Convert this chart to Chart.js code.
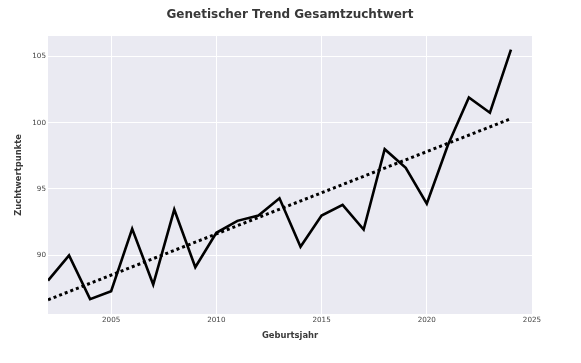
<!DOCTYPE html>
<html>
<head>
<meta charset="utf-8">
<script src="https://cdn.jsdelivr.net/npm/chart.js@4/dist/chart.umd.min.js"></script>
<style>
  html, body { margin: 0; padding: 0; background: #ffffff; }
  #wrap { width: 581px; height: 363px; position: relative; }
</style>
</head>
<body>
<div id="wrap"><canvas id="c" width="581" height="363"></canvas></div>
<script>
const years = [2002, 2003, 2004, 2005, 2006, 2007, 2008, 2009, 2010, 2011, 2012, 2013, 2014, 2015, 2016, 2017, 2018, 2019, 2020, 2021, 2022, 2023, 2024];
const zuchtwert = [88.1, 90.0, 86.7, 87.3, 92.0, 87.8, 93.45, 89.1, 91.7, 92.6, 93.0, 94.3, 90.65, 93.0, 93.8, 91.95, 98.0, 96.6, 93.9, 98.3, 101.9, 100.75, 105.5];
const trendYears = [2002, 2024];
const trendValues = [86.65, 100.3];
const xTicks = [2005, 2010, 2015, 2020, 2025];
const yTicks = [90, 95, 100, 105];

const titleText = 'Genetischer Trend Gesamtzuchtwert';
const xTitle = 'Geburtsjahr';
const yTitle = 'Zuchtwertpunkte';

const fontFam = '"DejaVu Sans", Verdana, sans-serif';

const plotBg = {
  id: 'plotBg',
  beforeDraw(chart) {
    const { ctx, chartArea: a } = chart;
    ctx.save();
    ctx.fillStyle = '#ffffff';
    ctx.fillRect(0, 0, chart.width, chart.height);
    ctx.fillStyle = '#EAEAF2';
    ctx.fillRect(a.left, a.top, a.right - a.left, a.bottom - a.top);
    ctx.restore();
  },
  afterDraw(chart) {
    const { ctx, chartArea: a } = chart;
    ctx.save();
    ctx.fillStyle = '#383838';
    ctx.font = 'bold 12px ' + fontFam;
    ctx.textAlign = 'center';
    ctx.textBaseline = 'middle';
    ctx.fillText(titleText, (a.left + a.right) / 2, 15);
    ctx.restore();
  }
};

new Chart(document.getElementById('c'), {
  type: 'line',
  data: {
    datasets: [
      {
        label: 'Gesamtzuchtwert',
        data: years.map((y, i) => ({ x: y, y: zuchtwert[i] })),
        borderColor: '#000000',
        borderWidth: 2.6,
        pointRadius: 0,
        tension: 0,
        fill: false
      },
      {
        label: 'Trend',
        data: trendYears.map((y, i) => ({ x: y, y: trendValues[i] })),
        borderColor: '#000000',
        borderWidth: 3,
        borderDash: [3, 3],
        pointRadius: 0,
        tension: 0,
        fill: false
      }
    ]
  },
  options: {
    responsive: false,
    animation: false,
    devicePixelRatio: 1,
    layout: { padding: { left: 14, right: 49, top: 36, bottom: 22 } },
    plugins: {
      legend: { display: false },
      tooltip: { enabled: false },
      title: { display: false }
    },
    scales: {
      x: {
        type: 'linear',
        min: 2002,
        max: 2025,
        afterBuildTicks(scale) { scale.ticks = xTicks.map(v => ({ value: v })); },
        afterFit(scale) { scale.height = 27; },
        grid: { color: '#ffffff', lineWidth: 1, drawTicks: false },
        border: { display: false },
        ticks: {
          padding: 2,
          color: '#444444',
          font: { family: fontFam, size: 7.2, lineHeight: 1.2 },
          maxRotation: 0,
          autoSkip: false,
          callback: v => String(v)
        },
        title: {
          display: true,
          text: xTitle,
          color: '#3a3a3a',
          font: { family: fontFam, size: 8.4, weight: 'bold', lineHeight: 1.2 },
          padding: 0
        }
      },
      y: {
        type: 'linear',
        min: 85.58,
        max: 106.53,
        afterBuildTicks(scale) { scale.ticks = yTicks.map(v => ({ value: v })); },
        afterFit(scale) { scale.width = 34; },
        grid: { color: '#ffffff', lineWidth: 1, drawTicks: false },
        border: { display: false },
        ticks: {
          padding: 2,
          color: '#444444',
          font: { family: fontFam, size: 7.2, lineHeight: 1.2 },
          autoSkip: false,
          callback: v => String(v)
        },
        title: {
          display: true,
          text: yTitle,
          color: '#3a3a3a',
          font: { family: fontFam, size: 8.4, weight: 'bold', lineHeight: 1.2 },
          padding: 0
        }
      }
    }
  },
  plugins: [plotBg]
});
</script>
</body>
</html>
